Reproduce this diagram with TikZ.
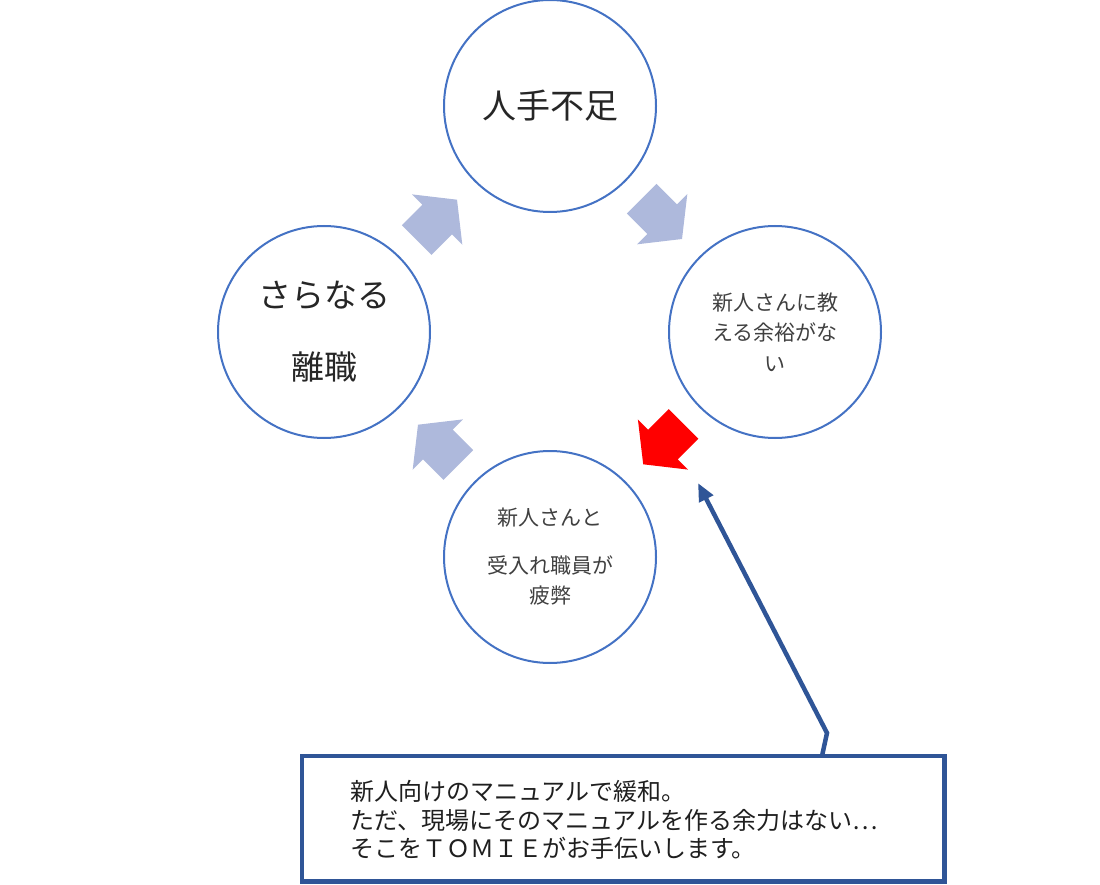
\documentclass[tikz,border=0pt]{standalone}
\usepackage{fontspec}
\newfontfamily\jp{Noto Sans CJK JP}
\usetikzlibrary{arrows.meta}
\definecolor{circblue}{HTML}{4472C4}
\definecolor{arrblue}{HTML}{AEB9DC}
\definecolor{calblue}{HTML}{2F5597}
\definecolor{bigtext}{HTML}{262626}
\definecolor{smalltext}{HTML}{404040}
\begin{document}
\begin{tikzpicture}[x=1pt,y=-1pt,
  bubble/.style={circle, draw=circblue, line width=2pt, fill=white,
    minimum size=212pt, inner sep=0pt, align=center},
  bigtxt/.style={font=\jp\fontsize{34}{40}\selectfont, text=bigtext},
  lefttxt/.style={font=\jp\fontsize{33}{72}\selectfont, text=bigtext},
  smalltxt/.style={font=\jp\fontsize{21}{30.5}\selectfont, text=smalltext},
  callbox/.style={draw=calblue, line width=4.5pt, fill=white,
    minimum width=642.5pt, minimum height=125.5pt, inner sep=0pt},
  calltxt/.style={font=\jp\fontsize{24}{28.2}\selectfont, text=black!88,
    align=left, inner sep=0pt, anchor=west},
  callline/.style={draw=calblue, line width=4.5pt, line join=miter,
    -{Triangle[length=18pt,width=15pt]}},
  blockarr/.pic={\fill[#1] (0,-21) -- (29,-21) -- (29,-35.5) -- (57,0)
    -- (29,35.5) -- (29,21) -- (0,21) -- cycle;}
]
\useasboundingbox (0,0) rectangle (1100,885);

% cycle circles
\node[bubble, bigtxt] (top) at (550,106) {人手不足};
\node[bubble, smalltxt] (right) at (775,332) {新人さんに教\\える余裕がな\\い};
\node[bubble, smalltxt] (bottom) at (550,557) {新人さんと\\[17pt]受入れ職員が\\疲弊};
\node[bubble, lefttxt] (left) at (324,332) {さらなる\\離職};

% block arrows
\pic[rotate=45] at (416.7,240) {blockarr=arrblue};
\pic[rotate=-45] at (641.7,198.7) {blockarr=arrblue};
\pic[rotate=-135] at (683.5,424) {blockarr=red};
\pic[rotate=135] at (458.3,465) {blockarr=arrblue};

% callout
\node[callbox] (callout) at (623.25,818.75) {};
\node[calltxt] (msg) at (350,820) {新人向けのマニュアルで緩和。\\ただ、現場にそのマニュアルを作る余力はない…\\そこをＴＯＭＩＥがお手伝いします。};
\coordinate (k1) at (822,756);
\coordinate (k2) at (827,733);
\coordinate (ktip) at (698,483);
\draw[callline] (k1) -- (k2) -- (ktip);
\end{tikzpicture}
\end{document}
